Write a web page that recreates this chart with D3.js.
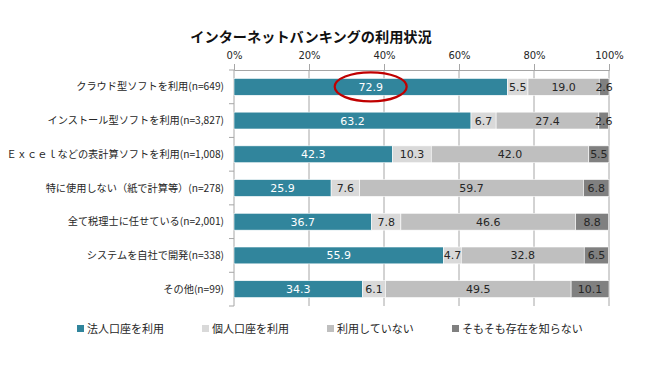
<!DOCTYPE html>
<html><head><meta charset="utf-8">
<script src="https://cdn.jsdelivr.net/npm/d3@7"></script>
<style>body{margin:0;background:#fff;}svg{display:block;font-family:"Noto Sans CJK JP","Noto Sans",sans-serif;}</style>
</head><body>
<svg id="c" width="665" height="391"></svg>
<script>
const title = "インターネットバンキングの利用状況";
const categories = ["クラウド型ソフトを利用(n=649)","インストール型ソフトを利用(n=3,827)","Ｅｘｃｅｌなどの表計算ソフトを利用(n=1,008)","特に使用しない（紙で計算等）(n=278)","全て税理士に任せている(n=2,001)","システムを自社で開発(n=338)","その他(n=99)"];
const seriesNames = ["法人口座を利用","個人口座を利用","利用していない","そもそも存在を知らない"];
const corporate = [72.9,63.2,42.3,25.9,36.7,55.9,34.3];
const personal = [5.5,6.7,10.3,7.6,7.8,4.7,6.1];
const notUsing = [19.0,27.4,42.0,59.7,46.6,32.8,49.5];
const unaware = [2.6,2.6,5.5,6.8,8.8,6.5,10.1];
const tickLabels = ["0%","20%","40%","60%","80%","100%"];
const colors = ["#31859C","#D9D9D9","#BFBFBF","#808080"];
const textColors = ["#ffffff","#262626","#262626","#262626"];

const series = [corporate, personal, notUsing, unaware];
const svg = d3.select("#c");
const x = d3.scaleLinear().domain([0,100]).range([234,609]);
const y = d3.scaleBand().domain(categories).range([70,306]).paddingInner(0.5).paddingOuter(0.25);

svg.append("text").attr("x",311).attr("y",42).attr("text-anchor","middle")
  .attr("font-size",14.2).attr("font-weight","bold").attr("fill","#111").text(title);

// gridlines
const ticks = [0,20,40,60,80,100];
svg.append("g").selectAll("line").data(ticks.slice(1)).join("line")
  .attr("x1",d=>x(d)).attr("x2",d=>x(d)).attr("y1",70).attr("y2",306)
  .attr("stroke","#A6A6A6").attr("stroke-width",1);

// top axis
const xAxis = d3.axisTop(x).tickValues(ticks).tickFormat((d,i)=>tickLabels[i]).tickSize(6).tickPadding(5);
const gx = svg.append("g").attr("transform","translate(0,70)").call(xAxis);
gx.select(".domain").attr("stroke","#A6A6A6");
gx.selectAll(".tick line").attr("stroke","#A6A6A6");
gx.selectAll("text").attr("font-size",10).attr("fill","#262626").attr("font-family","Verdana,'DejaVu Sans',sans-serif");

// left axis
const step = y.step();
const gy = svg.append("g");
gy.append("line").attr("x1",234).attr("x2",234).attr("y1",70).attr("y2",306).attr("stroke","#A6A6A6");
gy.selectAll("line.t").data(d3.range(categories.length+1)).join("line").attr("class","t")
  .attr("x1",229).attr("x2",234).attr("y1",i=>70+i*step).attr("y2",i=>70+i*step).attr("stroke","#A6A6A6");
gy.selectAll("text").data(categories).join("text")
  .attr("x",224).attr("y",d=>y(d)+y.bandwidth()/2).attr("dy","0.35em")
  .attr("text-anchor","end").attr("font-size",10.2).attr("fill","#262626").text(d=>d);

// stacked bars
const rows = categories.map((c,i)=>{let acc=0;return series.map((s,k)=>{const o={c,k,v:s[i],x0:acc,x1:acc+s[i]};acc+=s[i];return o;});});
const cells = rows.flat();
svg.append("g").selectAll("rect").data(cells).join("rect")
  .attr("x",d=>x(d.x0)).attr("width",d=>Math.max(0,x(Math.min(100,d.x1))-x(d.x0)))
  .attr("y",d=>y(d.c)).attr("height",y.bandwidth())
  .attr("fill",d=>colors[d.k]).attr("stroke","#ffffff").attr("stroke-width",0.6);
svg.append("g").selectAll("text").data(cells).join("text")
  .attr("x",d=>x((d.x0+Math.min(100,d.x1))/2)).attr("y",d=>y(d.c)+y.bandwidth()/2).attr("dy","0.36em")
  .attr("text-anchor","middle").attr("font-size",11).attr("fill",d=>textColors[d.k])
  .attr("font-family","Verdana,'DejaVu Sans',sans-serif")
  .text(d=>d.v.toFixed(1));

// highlight ellipse
svg.append("ellipse").attr("cx",x(corporate[0]/2)).attr("cy",y(categories[0])+y.bandwidth()/2)
  .attr("rx",36).attr("ry",14.5).attr("fill","none").attr("stroke","#C00000").attr("stroke-width",2.2);

// legend
const lg = svg.append("g").selectAll("g").data(seriesNames).join("g")
  .attr("transform",(d,i)=>`translate(${77+i*125},329)`);
lg.append("rect").attr("x",0).attr("y",-4).attr("width",7).attr("height",7).attr("fill",(d,i)=>colors[i]);
lg.append("text").attr("x",10).attr("y",0).attr("dy","0.35em").attr("font-size",11).attr("fill","#262626").text(d=>d);
</script>
</body></html>
